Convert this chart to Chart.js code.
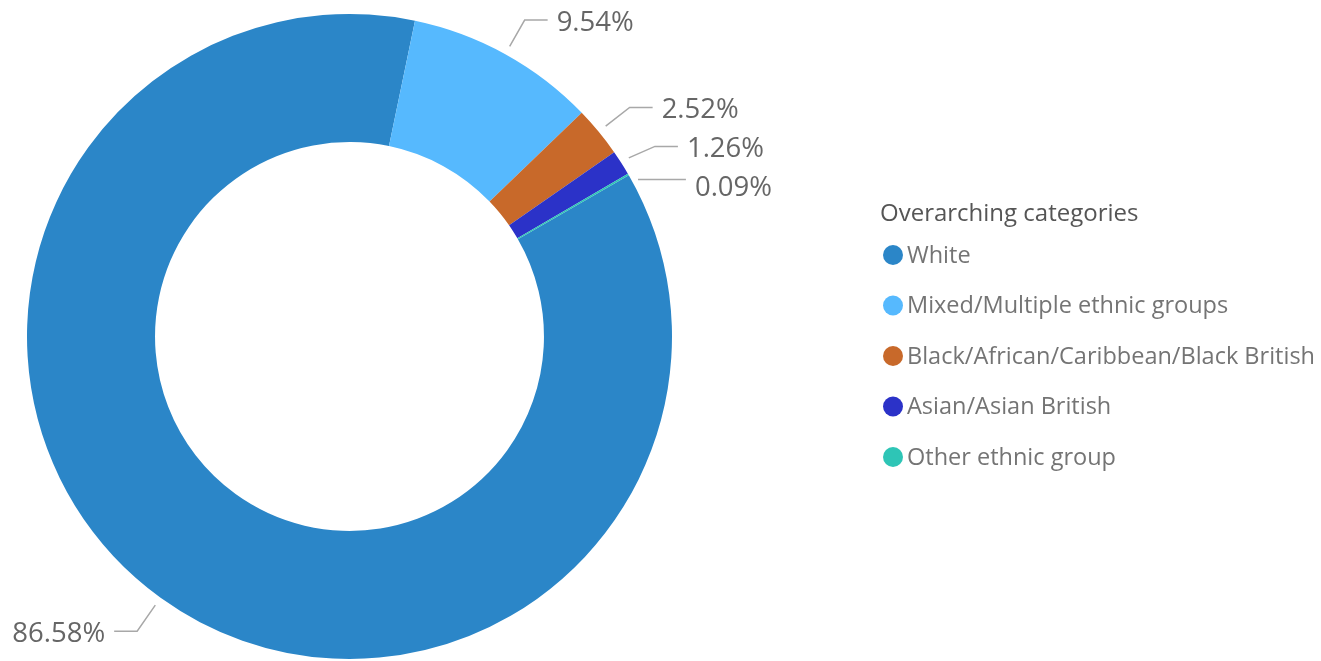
<!DOCTYPE html>
<html>
<head>
<meta charset="utf-8">
<script src="https://cdn.jsdelivr.net/npm/chart.js@4"></script>
<style>
  html, body { margin: 0; padding: 0; background: #ffffff; }
  #wrap { position: relative; width: 1321px; height: 661px; }
</style>
</head>
<body>
<div id="wrap"><canvas id="c" width="1321" height="661"></canvas></div>
<script>
const categories = ['White', 'Mixed/Multiple ethnic groups', 'Black/African/Caribbean/Black British', 'Asian/Asian British', 'Other ethnic group'];
const shares = [86.58, 9.54, 2.52, 1.26, 0.09];
const sliceColors = ['#2b86c8', '#56b9fe', '#c8692a', '#2b32c8', '#2ec5b6'];
const legendTitle = 'Overarching categories';

const FONT = "'Segoe UI', 'Open Sans', 'Noto Sans', sans-serif";

const outsideLabels = {
  id: 'outsideLabels',
  afterDatasetsDraw(chart) {
    const ctx = chart.ctx;
    const meta = chart.getDatasetMeta(0);
    const items = meta.data.map((arc, i) => {
      const p = arc.getProps(['x', 'y', 'startAngle', 'endAngle', 'outerRadius'], true);
      const mid = (p.startAngle + p.endAngle) / 2;
      const c = Math.cos(mid), s = Math.sin(mid);
      return {
        i, cx: p.x, cy: p.y, R: p.outerRadius, right: c >= 0,
        sx: p.x + c * (p.outerRadius + 9), sy: p.y + s * (p.outerRadius + 9),
        ex: p.x + c * (p.outerRadius + 40), ey: p.y + s * (p.outerRadius + 40),
        text: shares[i].toFixed(2) + '%'
      };
    });
    const GAP = 39;
    const right = items.filter(d => d.right).sort((a, b) => a.ey - b.ey);
    const left = items.filter(d => !d.right).sort((a, b) => b.ey - a.ey);
    let prev = -Infinity;
    right.forEach(d => { d.ty = Math.max(d.ey + 4, prev + GAP); prev = d.ty; });
    prev = Infinity;
    left.forEach(d => { d.ty = Math.min(d.ey + 4, prev - GAP); prev = d.ty; });

    ctx.save();
    ctx.font = '400 27.5px ' + FONT;
    ctx.textBaseline = 'middle';
    ctx.lineWidth = 1.5;
    ctx.strokeStyle = '#a8a8a8';
    ctx.fillStyle = '#666666';
    items.forEach(d => {
      const dir = d.right ? 1 : -1;
      const hx = d.ex + dir * 23;
      const shift = d.ty - 4 - d.ey;
      ctx.beginPath();
      if (Math.abs(shift) > 8) {
        const ly = d.right ? Math.max(d.sy, d.ty - 9) : Math.min(d.sy, d.ty - 9);
        const dy = ly - d.cy;
        const rr = d.R + 6;
        const sx = d.cx + dir * Math.sqrt(Math.max(0, rr * rr - dy * dy));
        ctx.moveTo(sx, ly);
        ctx.lineTo(hx, ly);
      } else {
        const ly = d.ty - 3;
        ctx.moveTo(d.sx, d.sy);
        ctx.lineTo(d.ex, ly);
        ctx.lineTo(hx, ly);
      }
      ctx.stroke();
      ctx.textAlign = d.right ? 'left' : 'right';
      ctx.fillText(d.text, hx + dir * 9, d.ty);
    });
    ctx.restore();
  }
};

const sideLegend = {
  id: 'sideLegend',
  afterDraw(chart) {
    const ctx = chart.ctx;
    ctx.save();
    ctx.textBaseline = 'middle';
    ctx.textAlign = 'left';
    ctx.font = '400 24px ' + FONT;
    ctx.fillStyle = '#555555';
    ctx.fillText(legendTitle, 880, 214);
    ctx.font = '400 23.5px ' + FONT;
    chart.data.labels.forEach((lab, i) => {
      const y = 255 + i * 50.5;
      ctx.beginPath();
      ctx.arc(893, y, 10, 0, Math.PI * 2);
      ctx.fillStyle = chart.data.datasets[0].backgroundColor[i];
      ctx.fill();
      ctx.fillStyle = '#747474';
      ctx.fillText(lab, 907, y + 1);
    });
    ctx.restore();
  }
};

new Chart(document.getElementById('c'), {
  type: 'doughnut',
  data: {
    labels: categories,
    datasets: [{
      data: shares,
      backgroundColor: sliceColors,
      borderWidth: 0,
      hoverOffset: 0
    }]
  },
  options: {
    responsive: false,
    animation: false,
    cutout: '60.3%',
    rotation: 60,
    layout: { padding: { left: 27, right: 649, top: 14, bottom: 2 } },
    plugins: {
      legend: { display: false },
      tooltip: { enabled: false }
    }
  },
  plugins: [outsideLabels, sideLegend]
});
</script>
</body>
</html>
